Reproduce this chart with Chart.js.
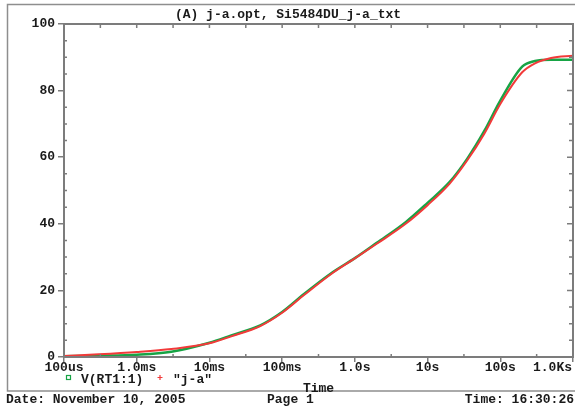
<!DOCTYPE html>
<html>
<head>
<meta charset="utf-8">
<script src="https://cdn.jsdelivr.net/npm/chart.js@4/dist/chart.umd.min.js"></script>
<style>
  html, body { margin: 0; padding: 0; background: #fff; }
  canvas { display: block; }
</style>
</head>
<body>
<canvas id="chart" width="575" height="411"></canvas>
<script>
// time in seconds (log axis)
const timeSec = [1e-4, 3e-4, 1e-3, 3e-3, 1e-2, 2e-2, 5e-2, 0.1, 0.2, 0.5, 1, 2, 5, 10, 20, 35, 60, 100, 200, 300, 500, 1000];
const simValues = [0.2, 0.4, 0.7, 1.6, 4.3, 6.5, 9.5, 13.5, 18.9, 25.5, 29.7, 34.3, 40.5, 46.3, 52.5, 59.5, 67.8, 77.0, 87.2, 88.9, 89.3, 89.3];
const measValues = [0.3, 0.8, 1.5, 2.4, 4.1, 6.2, 9.3, 13.3, 18.6, 25.3, 29.6, 34.0, 40.0, 45.6, 52.0, 59.0, 67.0, 76.0, 85.5, 88.2, 89.8, 90.5];

const xTickValues = [1e-4, 1e-3, 1e-2, 1e-1, 1, 10, 100, 1000];
const xTickLabels = ["100us", "1.0ms", "10ms", "100ms", "1.0s", "10s", "100s", "1.0Ks"];

const titleText = "(A) j-a.opt, Si5484DU_j-a_txt";
const legendLabels = ["V(RT1:1)", "\"j-a\""];
const footerLeft = "Date: November 10, 2005";
const footerMid = "Page 1";
const footerRight = "Time: 16:30:26";

const GREEN = "#17a445";
const RED = "#f23a3a";
const AXIS = "#7c7c7c";
const TEXT = "#1a1a1a";
const FONT = "bold 13px 'Liberation Mono', 'DejaVu Sans Mono', monospace";

const toPoints = (vals) => timeSec.map((t, i) => ({ x: t, y: vals[i] }));

// frame, extra ticks and all the text around the plot
const decorPlugin = {
    id: "decor",
    beforeDraw(chart) {
        const ctx = chart.ctx;
        ctx.save();
        ctx.fillStyle = "#fff";
        ctx.fillRect(0, 0, chart.width, chart.height);
        ctx.restore();
    },
    afterDraw(chart) {
        const { ctx, chartArea: a, scales } = chart;
        const x = scales.x;
        const y = scales.y;
        ctx.save();

        // outer page frame
        ctx.strokeStyle = "#8e8e8e";
        ctx.lineWidth = 1.5;
        ctx.beginPath();
        ctx.moveTo(575, 4.5);
        ctx.lineTo(7.5, 4.5);
        ctx.lineTo(7.5, 391);
        ctx.lineTo(575, 391);
        ctx.stroke();

        // plot box
        ctx.strokeStyle = AXIS;
        ctx.lineWidth = 2;
        ctx.strokeRect(a.left, a.top, a.width, a.height);

        // half-decade and decade ticks on top / bottom
        ctx.lineWidth = 1.5;
        ctx.beginPath();
        for (let i = 0; i < xTickValues.length; i++) {
            const v = xTickValues[i];
            const px = x.getPixelForValue(v);
            ctx.moveTo(px, a.top);
            ctx.lineTo(px, a.top + 4);
            if (i < xTickValues.length - 1) {
                const pm = x.getPixelForValue(v * Math.sqrt(10));
                ctx.moveTo(pm, a.top);
                ctx.lineTo(pm, a.top + 4);
                ctx.moveTo(pm, a.bottom);
                ctx.lineTo(pm, a.bottom - 3);
            }
        }
        // minor ticks every 5 on left (inside) and right (inside)
        for (let v = 5; v < 100; v += 5) {
            const py = y.getPixelForValue(v);
            const major = v % 20 === 0;
            if (!major) {
                ctx.moveTo(a.left, py);
                ctx.lineTo(a.left + 3, py);
            }
            ctx.moveTo(a.right, py);
            ctx.lineTo(a.right - (major ? 6 : 4), py);
        }
        ctx.stroke();

        ctx.fillStyle = TEXT;
        ctx.font = FONT;
        ctx.textBaseline = "middle";

        // x tick labels (last one pulled inside)
        ctx.textAlign = "center";
        xTickLabels.forEach((lbl, i) => {
            const w = ctx.measureText(lbl).width;
            let px = x.getPixelForValue(xTickValues[i]);
            px = Math.min(px, chart.width - 3 - w / 2);
            ctx.fillText(lbl, px, 368);
        });

        // title
        ctx.fillText(titleText, 288, 15);

        // axis title
        ctx.fillText("Time", (a.left + a.right) / 2, 389);

        // legend
        ctx.textAlign = "left";
        ctx.strokeStyle = GREEN;
        ctx.lineWidth = 1.2;
        ctx.strokeRect(66.5, 375.5, 4, 4);
        ctx.fillText(legendLabels[0], 81, 380);
        ctx.strokeStyle = RED;
        ctx.beginPath();
        ctx.moveTo(157.5, 377.5);
        ctx.lineTo(162.5, 377.5);
        ctx.moveTo(160, 375);
        ctx.lineTo(160, 380);
        ctx.stroke();
        ctx.fillText(legendLabels[1], 173, 380);

        // footer
        ctx.fillText(footerLeft, 6, 400);
        ctx.fillText(footerMid, 267, 400);
        ctx.textAlign = "right";
        ctx.fillText(footerRight, 574, 400);

        ctx.restore();
    },
};

new Chart(document.getElementById("chart"), {
    type: "line",
    data: {
        datasets: [
            {
                label: legendLabels[1],
                data: toPoints(measValues),
                borderColor: RED,
                borderWidth: 2,
                pointRadius: 0,
                cubicInterpolationMode: "monotone",
            },
            {
                label: legendLabels[0],
                data: toPoints(simValues),
                borderColor: GREEN,
                borderWidth: 2.5,
                pointRadius: 0,
                cubicInterpolationMode: "monotone",
            },
        ],
    },
    options: {
        responsive: false,
        animation: false,
        layout: { padding: { left: 0, top: 24, right: 2, bottom: 0 } },
        plugins: {
            legend: { display: false },
            tooltip: { enabled: false },
        },
        scales: {
            x: {
                type: "logarithmic",
                min: 1e-4,
                max: 1e3,
                afterBuildTicks: (scale) => {
                    scale.ticks = xTickValues.map((v) => ({ value: v }));
                },
                afterFit: (scale) => {
                    scale.height = 54;
                },
                ticks: { display: false },
                grid: {
                    drawOnChartArea: false,
                    drawTicks: true,
                    tickLength: 5,
                    color: AXIS,
                    lineWidth: 1.5,
                },
                border: { display: true, color: AXIS, width: 2 },
            },
            y: {
                min: 0,
                max: 100,
                afterFit: (scale) => {
                    scale.width = 64;
                },
                ticks: {
                    stepSize: 20,
                    color: TEXT,
                    font: { family: "'Liberation Mono', monospace", size: 13, weight: "bold" },
                    padding: 3,
                },
                grid: {
                    drawOnChartArea: false,
                    tickLength: 6,
                    color: AXIS,
                    lineWidth: 1.5,
                },
                border: { display: true, color: AXIS, width: 2 },
            },
        },
    },
    plugins: [decorPlugin],
});
</script>
</body>
</html>
